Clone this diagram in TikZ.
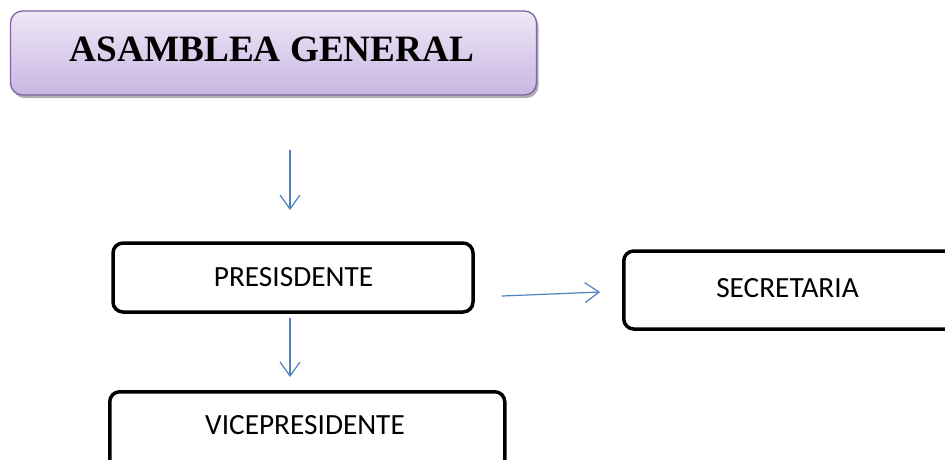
\documentclass[tikz,border=0pt]{standalone}
\usepackage{fontspec}
\setmainfont{Carlito}
\newfontfamily\timesfont{Liberation Serif}
\usetikzlibrary{arrows.meta,shadows,fadings}
\definecolor{boxtop}{HTML}{EEE8F6}
\definecolor{boxbot}{HTML}{C9B6E2}
\definecolor{boxborder}{HTML}{8064A2}
\definecolor{arrowblue}{HTML}{4F81BD}
\tikzset{
  headbox/.style={draw=boxborder, line width=1.3pt, rounded corners=12pt,
    top color=boxtop, bottom color=boxbot,
    drop shadow={shadow xshift=2pt, shadow yshift=-3pt, opacity=0.45, fill=black!70},
    minimum width=526pt, minimum height=84pt, inner sep=0pt},
  headtext/.style={inner sep=0pt, font=\timesfont\fontsize{37.2}{42}\selectfont\bfseries},
  orgbox/.style={draw=black, line width=3.5pt, rounded corners=10pt, fill=white,
    inner sep=0pt, font=\fontsize{29.3}{33}\selectfont},
  orgtext/.style={inner sep=0pt, font=\fontsize{29.3}{33}\selectfont},
  flow/.style={draw=arrowblue, line width=1.2pt, -{Straight Barb[length=14pt,width=20pt,line width=1.2pt]}}
}
\begin{document}
\begin{tikzpicture}[x=1pt,y=-1pt]
\useasboundingbox (0,0) rectangle (945,459);
\clip (0,0) rectangle (945,459);
\node[headbox] (ag) at (273.5,53) {};
\node[headtext] (agt) at (272,49.5) {ASAMBLEA GENERAL};
\node[orgbox, minimum width=360pt, minimum height=69pt] (pres) at (293,277.5) {};
\node[orgtext] (prest) at (293.5,277.5) {PRESISDENTE};
\node[orgbox, minimum width=340pt, minimum height=78pt, anchor=west] (sec) at (622,290) {};
\node[orgtext] (sect) at (787.5,288.5) {SECRETARIA};
\node[orgbox, minimum width=395pt, minimum height=90pt, anchor=north west] (vice) at (108,390) {};
\node[orgtext] (vicet) at (305,425.5) {VICEPRESIDENTE};
\coordinate (a1s) at (290,150);
\coordinate (a1e) at (290,210);
\coordinate (a2s) at (502,296);
\coordinate (a2e) at (600,292);
\coordinate (a3s) at (290,318);
\coordinate (a3e) at (290,377);
\draw[flow] (a1s) -- (a1e);
\draw[flow] (a2s) -- (a2e);
\draw[flow] (a3s) -- (a3e);
\end{tikzpicture}
\end{document}
